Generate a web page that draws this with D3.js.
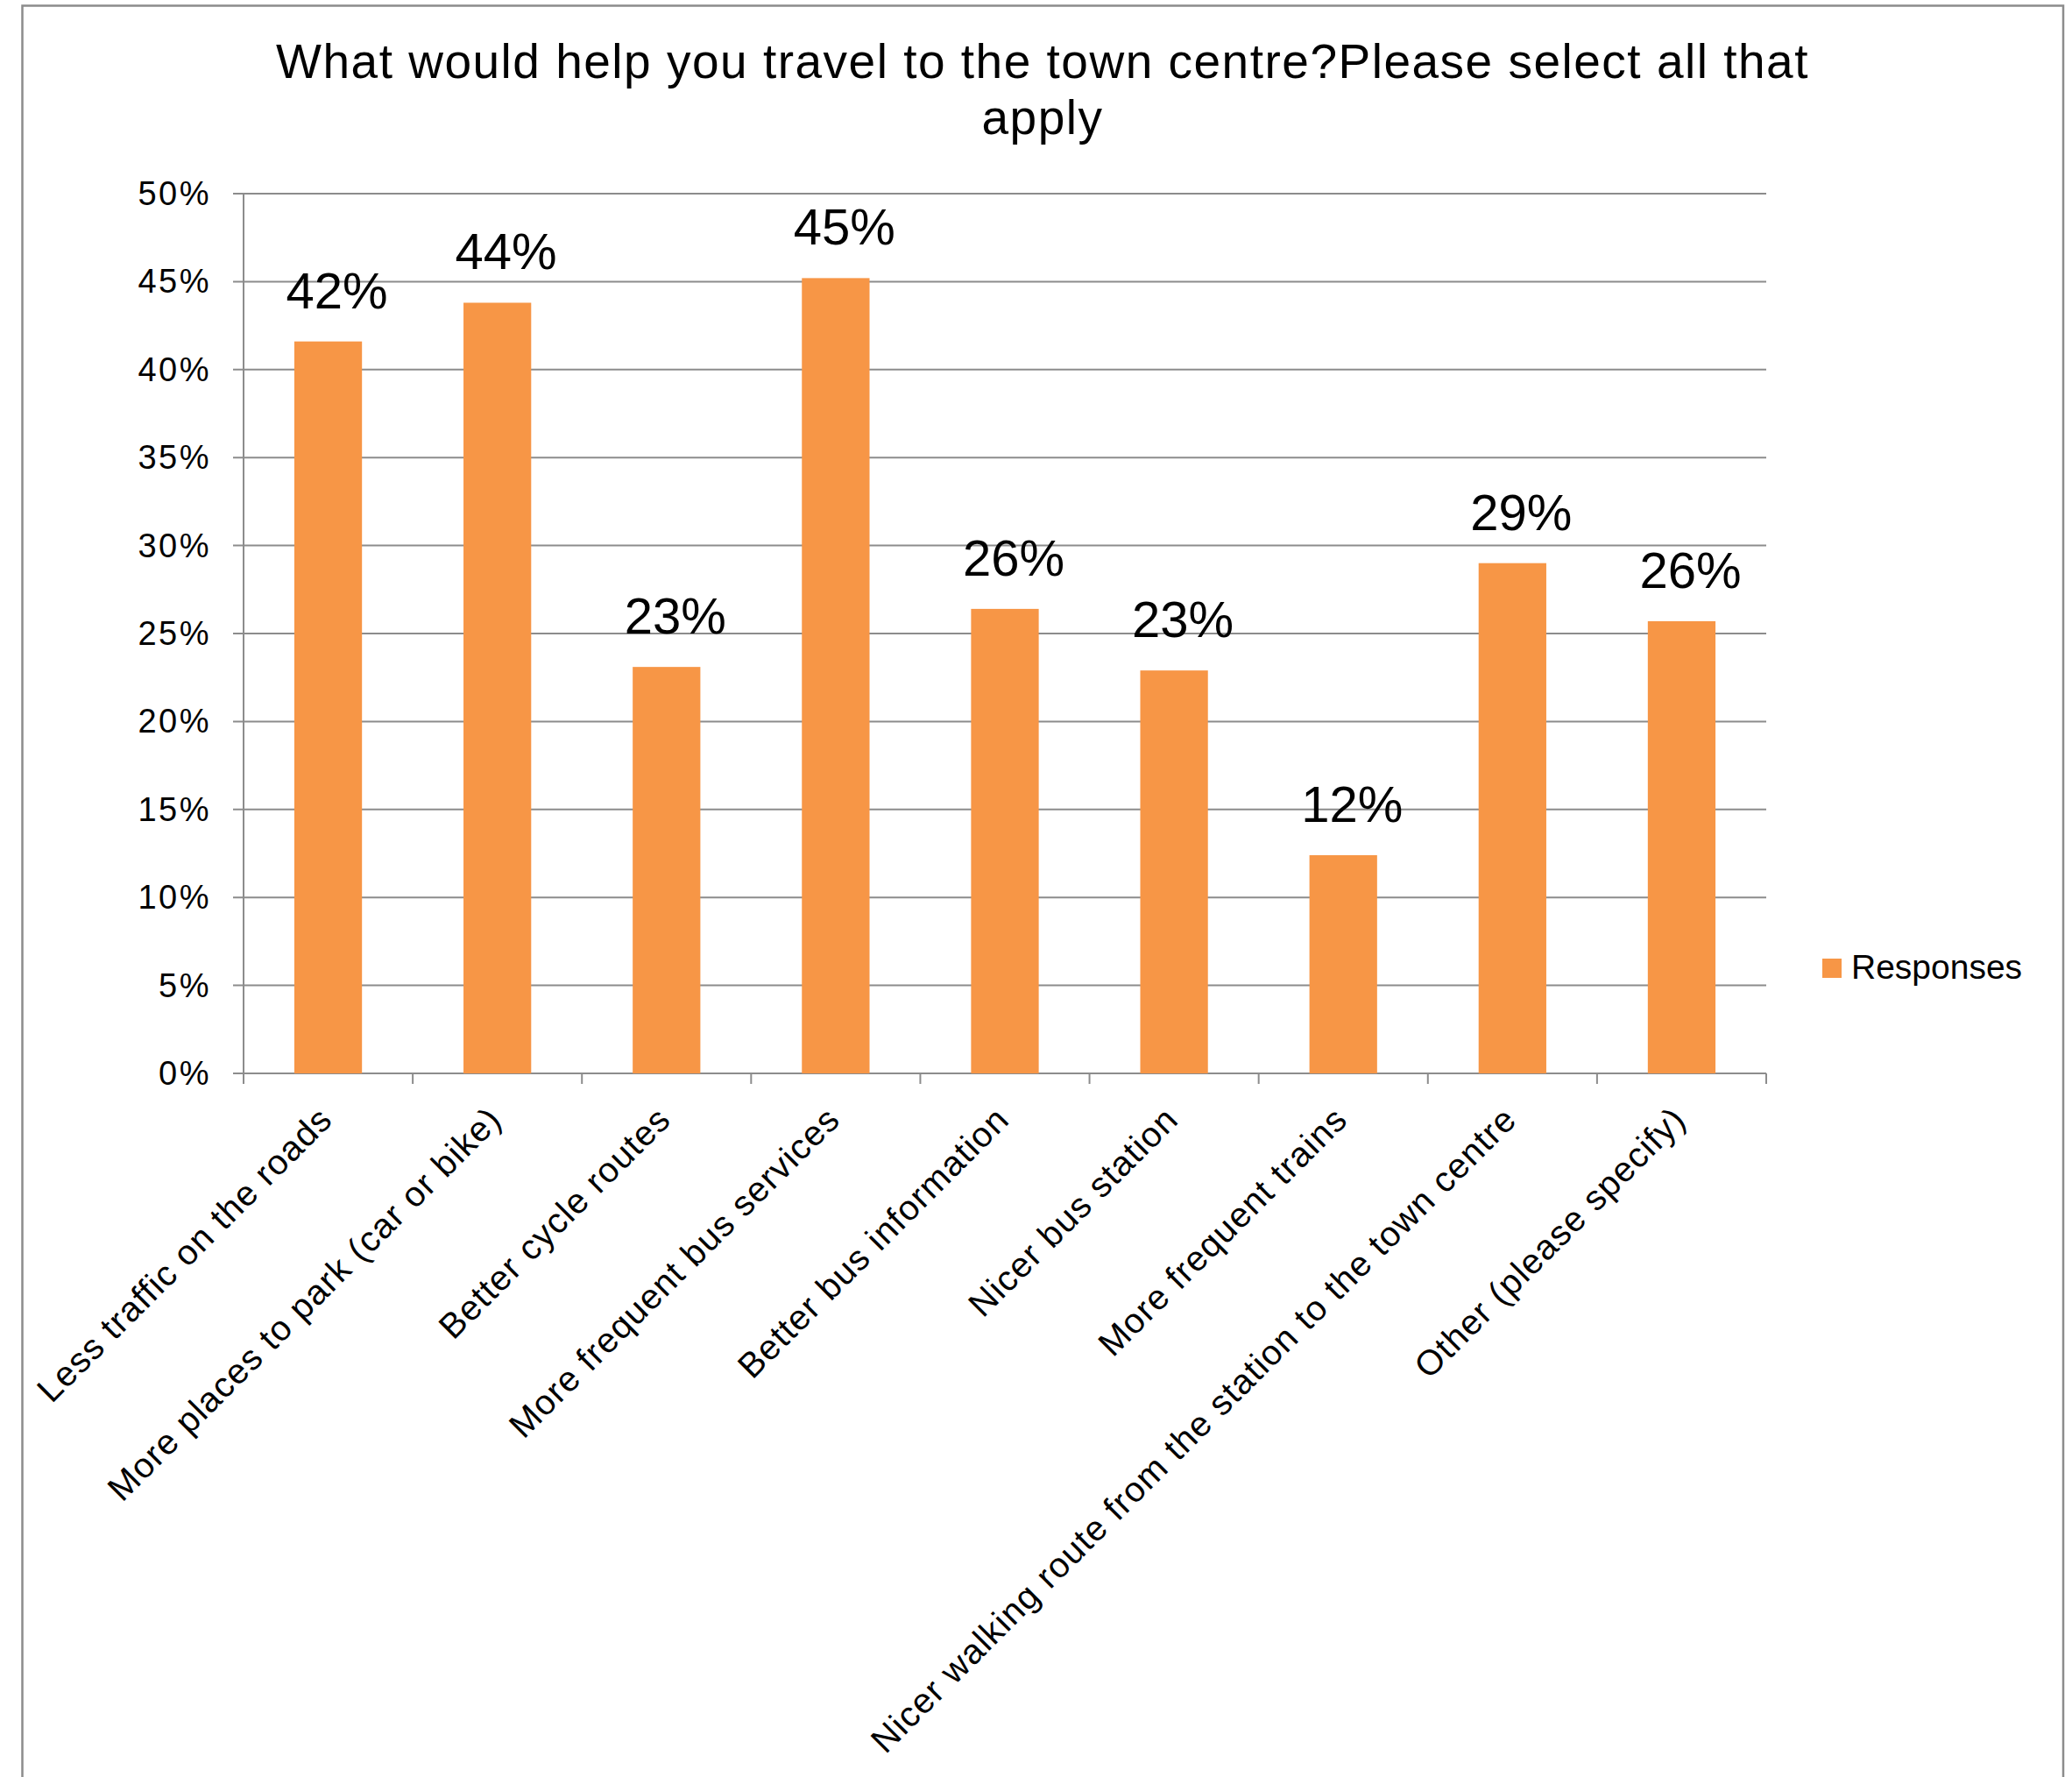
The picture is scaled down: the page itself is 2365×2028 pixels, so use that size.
<!DOCTYPE html>
<html>
<head>
<meta charset="utf-8">
<script src="https://cdn.jsdelivr.net/npm/d3@7"></script>
<style>
  html, body { margin: 0; padding: 0; background: #ffffff; }
  svg { display: block; }
  text { font-family: "Liberation Sans", Arial, sans-serif; fill: #000; }
</style>
</head>
<body>
<div id="chart"></div>
<script>
// ---- Data ----
const titleLines = ["What would help you travel to the town centre?Please select all that", "apply"];
const categories = [
  "Less traffic on the roads",
  "More places to park (car or bike)",
  "Better cycle routes",
  "More frequent bus services",
  "Better bus information",
  "Nicer bus station",
  "More frequent trains",
  "Nicer walking route from the station to the town centre",
  "Other (please specify)"
];
const values = [0.416, 0.438, 0.231, 0.452, 0.264, 0.229, 0.124, 0.290, 0.257];
const yTickValues = [0, 0.05, 0.10, 0.15, 0.20, 0.25, 0.30, 0.35, 0.40, 0.45, 0.50];
const seriesName = "Responses";

// ---- Layout ----
const W = 2365, H = 2028;
const plot = { left: 278, right: 2016, top: 221, bottom: 1225 };
const barColor = "#F79646";
const gridColor = "#8c8c8c";

const svg = d3.select("#chart").append("svg")
  .attr("width", W).attr("height", H);

svg.append("rect").attr("width", W).attr("height", H).attr("fill", "#fff");

// frame
svg.append("rect")
  .attr("x", 25.5).attr("y", 6.5)
  .attr("width", 2355 - 25.5).attr("height", 2100)
  .attr("fill", "none").attr("stroke", gridColor).attr("stroke-width", 2.5);

// title
svg.append("text")
  .attr("text-anchor", "middle")
  .style("font-size", "55px")
  .style("letter-spacing", "1.5px")
  .selectAll("tspan").data(titleLines).join("tspan")
  .attr("x", 1190)
  .attr("y", (d, i) => 89 + i * 64)
  .text(d => d);

// scales
const x = d3.scaleBand()
  .domain(categories)
  .range([plot.left, plot.right])
  .paddingInner(0.6)
  .paddingOuter(0.3);

const y = d3.scaleLinear()
  .domain([0, 0.5])
  .range([plot.bottom, plot.top]);

const fmt = d3.format(".0%");

// gridlines + y ticks
const g = svg.append("g");
g.selectAll("line.grid").data(yTickValues).join("line")
  .attr("class", "grid")
  .attr("x1", plot.left - 12).attr("x2", plot.right)
  .attr("y1", d => y(d)).attr("y2", d => y(d))
  .attr("stroke", gridColor).attr("stroke-width", 2);

g.selectAll("text.ytick").data(yTickValues).join("text")
  .attr("class", "ytick")
  .attr("x", plot.left - 37)
  .attr("y", d => y(d))
  .attr("text-anchor", "end")
  .attr("dominant-baseline", "central")
  .style("font-size", "38px")
  .style("letter-spacing", "2.5px")
  .text(d => fmt(d));

// y axis line
g.append("line")
  .attr("x1", plot.left).attr("x2", plot.left)
  .attr("y1", y(0.5)).attr("y2", y(0))
  .attr("stroke", gridColor).attr("stroke-width", 2);

// x-axis tick marks at category boundaries
const boundaries = d3.range(categories.length + 1).map(i => x.range()[0] + i * x.step());
g.selectAll("line.xtick").data(boundaries).join("line")
  .attr("class", "xtick")
  .attr("x1", d => d).attr("x2", d => d)
  .attr("y1", y(0)).attr("y2", y(0) + 12)
  .attr("stroke", gridColor).attr("stroke-width", 2);

// bars
svg.append("g").selectAll("rect").data(values).join("rect")
  .attr("x", (d, i) => x(categories[i]))
  .attr("y", d => y(d))
  .attr("width", x.bandwidth())
  .attr("height", d => y(0) - y(d))
  .attr("fill", barColor);

// x axis baseline over bars
g.append("line")
  .attr("x1", plot.left).attr("x2", plot.right)
  .attr("y1", y(0)).attr("y2", y(0))
  .attr("stroke", gridColor).attr("stroke-width", 2);

// data labels
svg.append("g").selectAll("text").data(values).join("text")
  .attr("x", (d, i) => x(categories[i]) + x.bandwidth() / 2 + 10)
  .attr("y", d => y(d) - 38)
  .attr("text-anchor", "middle")
  .style("font-size", "58px")
  .text(d => fmt(d));

// category labels
svg.append("g").selectAll("text").data(categories).join("text")
  .attr("transform", d => `translate(${x(d) + x.bandwidth() / 2 + 7},${y(0) + 55}) rotate(-45)`)
  .attr("text-anchor", "end")
  .style("font-size", "40px")
  .style("letter-spacing", "1.2px")
  .text(d => d);

// legend
const lg = svg.append("g");
lg.append("rect")
  .attr("x", 2080).attr("y", 1094)
  .attr("width", 22).attr("height", 22)
  .attr("fill", barColor);
lg.append("text")
  .attr("x", 2113).attr("y", 1117)
  .style("font-size", "39px")
  .text(seriesName);
</script>
</body>
</html>
